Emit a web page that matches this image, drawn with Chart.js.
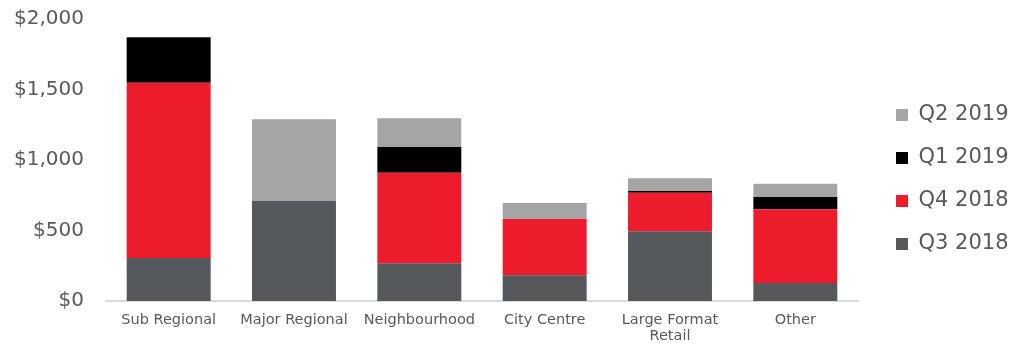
<!DOCTYPE html>
<html>
<head>
<meta charset="utf-8">
<script src="https://cdn.jsdelivr.net/npm/chart.js@4"></script>
<style>
  html, body { margin: 0; padding: 0; background: #fff; }
  #wrap { width: 1023px; height: 347px; position: relative; }
</style>
</head>
<body>
<div id="wrap"><canvas id="chart"></canvas></div>
<script>
// categories and series (values in $ millions)
const categories = ['Sub Regional', 'Major Regional', 'Neighbourhood', 'City Centre', ['Large Format', 'Retail'], 'Other'];
const q3_2018 = [305, 709, 267, 182, 494, 128];
const q4_2018 = [1243, 0, 643, 400, 274, 522];
const q1_2019 = [322, 0, 182, 0, 12, 88];
const q2_2019 = [0, 580, 204, 113, 90, 94];
const yTicks = [0, 500, 1000, 1500, 2000];

const textColor = '#595959';
const mainFont = "'DejaVu Sans', Arial, sans-serif";

function makeSet(label, data, color) {
    return { label: label, data: data, backgroundColor: color, borderWidth: 0 };
}

// legend box: fixed width, items nudged right and down
const legendLayout = {
    id: 'legendLayout',
    afterInit(chart) {
        const lg = chart.legend;
        const fit = lg.fit;
        lg.fit = function () {
            fit.call(this);
            this.width = 165;
        };
    },
    afterLayout(chart) {
        const lg = chart.legend;
        lg.left += 16;
        lg.right += 16;
        lg.top += 6;
        lg.bottom += 6;
    }
};

new Chart(document.getElementById('chart').getContext('2d'), {
    type: 'bar',
    data: {
        labels: categories,
        datasets: [
            makeSet('Q3 2018', q3_2018, '#55595c'),
            makeSet('Q4 2018', q4_2018, '#ec1c2d'),
            makeSet('Q1 2019', q1_2019, '#000000'),
            makeSet('Q2 2019', q2_2019, '#a5a5a5')
        ]
    },
    plugins: [legendLayout],
    options: {
        responsive: true,
        maintainAspectRatio: false,
        animation: false,
        datasets: { bar: { barPercentage: 0.67, categoryPercentage: 1 } },
        layout: { padding: 0 },
        plugins: {
            legend: {
                position: 'right',
                reverse: true,
                labels: {
                    boxWidth: 12,
                    boxHeight: 12,
                    padding: 22,
                    color: textColor,
                    font: { family: mainFont, size: 21 }
                }
            },
            tooltip: { enabled: false }
        },
        scales: {
            x: {
                stacked: true,
                grid: { display: false, drawTicks: false },
                border: { color: '#d9d9d9', width: 2 },
                ticks: {
                    color: textColor,
                    padding: 11,
                    maxRotation: 0,
                    autoSkip: false,
                    font: { family: mainFont, size: 14.5, lineHeight: 1.1 }
                },
                afterFit: (scale) => {
                    scale.height = 46;
                    scale.paddingLeft = 0;
                    scale.paddingRight = 0;
                }
            },
            y: {
                stacked: true,
                min: 0,
                max: 2000,
                afterBuildTicks: (axis) => { axis.ticks = yTicks.map(v => ({ value: v })); },
                grid: { display: false, drawTicks: false },
                border: { display: false },
                ticks: {
                    color: textColor,
                    padding: 22,
                    font: { family: mainFont, size: 20 },
                    callback: (v) => '$' + v.toLocaleString('en-US')
                },
                afterFit: (scale) => {
                    scale.width = 106;
                    scale.paddingTop = 19;
                    scale.paddingBottom = 0;
                }
            }
        }
    }
});
</script>
</body>
</html>
